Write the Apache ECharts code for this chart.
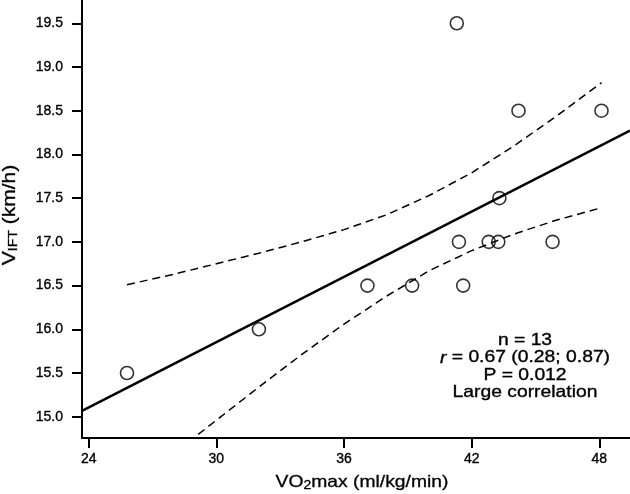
<!DOCTYPE html>
<html><head><meta charset="utf-8">
<script src="https://cdn.jsdelivr.net/npm/echarts@6/dist/echarts.min.js"></script>
<style>html,body{margin:0;padding:0;background:#fff}#c{width:630px;height:494px}</style>
</head><body><div id="c"></div>
<script>
// Observed data (VO2max in ml/kg/min, VIFT in km/h)
const vo2max = [25.8, 32.0, 37.1, 39.2, 41.6, 41.4, 42.8, 43.25, 45.8, 43.3, 41.3, 44.2, 48.1];
const vIFT   = [15.5, 16.0, 16.5, 16.5, 16.5, 17.0, 17.0, 17.0, 17.0, 17.5, 19.5, 18.5, 18.5];
// Regression line end points
const fitX = [23.685, 49.44];
const fitY = [15.067, 18.273];
// Confidence band (dashed)
const bandX     = [25.8, 28, 30, 32, 34, 36, 38, 40, 42, 44, 46, 48.1];
const bandUpper = [16.51, 16.63, 16.75, 16.87, 17.00, 17.14, 17.31, 17.53, 17.79, 18.10, 18.44, 18.82];
const bandLower = [14.15, 14.58, 14.96, 15.34, 15.71, 16.06, 16.38, 16.67, 16.90, 17.09, 17.25, 17.39];
// Tick labels
const xTicks = [24, 30, 36, 42, 48];
const yTicks = [15.0, 15.5, 16.0, 16.5, 17.0, 17.5, 18.0, 18.5, 19.0, 19.5];
const statLines = ['n = 13', '{it|r} = 0.67 (0.28; 0.87)', 'P = 0.012', 'Large correlation'];

const FONT = '"Liberation Sans", Arial, sans-serif';
const chart = echarts.init(document.getElementById('c'), null, {renderer: 'canvas'});
const pair = (xs, ys) => xs.map((x, i) => [x, ys[i]]);
const heavy = {textBorderColor: '#000', textBorderWidth: 0.35};

const axisCommon = {
  axisLine: {show: true, onZero: false, lineStyle: {color: '#000', width: 2}},
  axisTick: {show: true, inside: false, length: 10, lineStyle: {color: '#000', width: 2}},
  splitLine: {show: false},
};

chart.setOption({
  animation: false,
  backgroundColor: '#fff',
  grid: {left: 82, right: 0, top: 0, bottom: 56, containLabel: false},
  xAxis: Object.assign({
    type: 'value', min: 23.685, max: 49.44,
    axisLabel: Object.assign({customValues: xTicks, margin: 14, fontSize: 14, color: '#000', fontFamily: FONT}, heavy),
  }, axisCommon, {axisTick: Object.assign({}, axisCommon.axisTick, {customValues: xTicks})}),
  yAxis: Object.assign({
    type: 'value', min: 14.757, max: 19.766,
    axisLabel: Object.assign({customValues: yTicks, margin: 19, fontSize: 14, color: '#000', fontFamily: FONT,
      formatter: v => Number(v).toFixed(1)}, heavy),
  }, axisCommon, {axisTick: Object.assign({}, axisCommon.axisTick, {customValues: yTicks})}),
  series: [
    {type: 'line', data: pair(bandX, bandUpper), symbol: 'none', clip: true, silent: true,
     lineStyle: {color: '#000', width: 1.5, type: [8, 5]}},
    {type: 'line', data: pair(bandX, bandLower), symbol: 'none', clip: true, silent: true,
     lineStyle: {color: '#000', width: 1.5, type: [8, 5]}},
    {type: 'line', data: pair(fitX, fitY), symbol: 'none', clip: true, silent: true,
     lineStyle: {color: '#000', width: 2.5}},
    {type: 'scatter', data: pair(vo2max, vIFT), symbol: 'circle', symbolSize: 13, silent: true,
     itemStyle: {color: 'rgba(0,0,0,0)', borderColor: '#000', borderWidth: 1.6}, z: 5},
  ],
  graphic: [
    {type: 'text', x: 525, y: 332, z: 10, scaleX: 1.17,
     style: Object.assign({text: statLines.join('\n'), textAlign: 'center', fontSize: 16.5, lineHeight: 17.3,
       fontFamily: FONT, fill: '#000',
       rich: {it: {fontStyle: 'italic', fontSize: 16.5, fontFamily: FONT}}}, {stroke: '#000', lineWidth: 0.35})},
    {type: 'text', x: 362, y: 482.5, z: 10, scaleX: 1.17,
     style: Object.assign({text: '{a|VO}{s|2}{a|max (ml/kg/min)}', textAlign: 'center', textVerticalAlign: 'middle',
       fill: '#000', fontFamily: FONT,
       rich: {a: {fontSize: 16.5, fontFamily: FONT, lineHeight: 20, verticalAlign: 'middle'},
              s: {fontSize: 12, fontFamily: FONT, lineHeight: 20, verticalAlign: 'bottom', padding: [0, 0, 1, 0]}}}, {stroke: '#000', lineWidth: 0.3})},
    {type: 'text', x: 10, y: 215, rotation: Math.PI / 2, z: 10, scaleX: 1.17,
     style: Object.assign({text: '{a|V}{s|IFT}{a| (km/h)}', textAlign: 'center', textVerticalAlign: 'middle',
       fill: '#000', fontFamily: FONT,
       rich: {a: {fontSize: 18, fontFamily: FONT, lineHeight: 22, verticalAlign: 'middle'},
              s: {fontSize: 12, fontFamily: FONT, lineHeight: 22, verticalAlign: 'bottom', padding: [0, 0, 1, 0]}}}, {stroke: '#000', lineWidth: 0.3})},
  ],
});
</script></body></html>
